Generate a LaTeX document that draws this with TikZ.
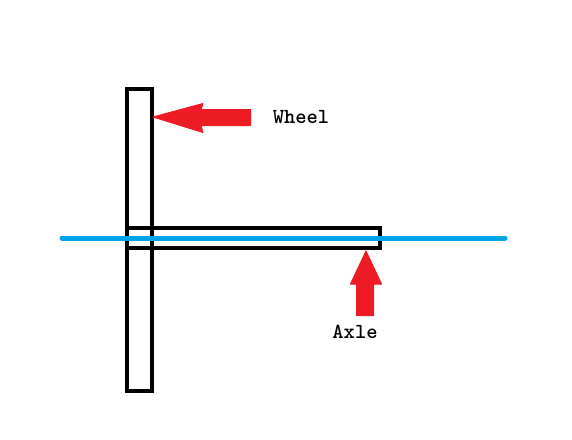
\documentclass[tikz,border=0pt]{standalone}
\definecolor{pred}{RGB}{237,28,36}
\definecolor{pblue}{RGB}{0,162,232}
\tikzset{
  part/.style={draw=black, line width=4pt, fill=none},
  redarrow/.style={fill=pred, draw=pred, line width=1pt, line join=round},
  axis/.style={draw=pblue, line width=5pt, line cap=round},
  lbl/.style={font=\ttfamily\bfseries\fontsize{21.5}{21.5}\selectfont, inner sep=0pt}
}
\begin{document}
\begin{tikzpicture}[x=1pt,y=-1pt]
\useasboundingbox[fill=white] (0,0) rectangle (572,439);
% wheel and axle
\draw[part] (127,88.5) rectangle (152,391);
\draw[part] (127,228) rectangle (379.5,247.5);
\coordinate (axL) at (62,238);
\coordinate (axR) at (505,238);
\draw[axis] (axL) -- (axR);
% arrows
\filldraw[redarrow] (153,117) -- (203,103.5) -- (201,109.5) -- (250.5,109.5) -- (250.5,125.5) -- (201,125.5) -- (203,132.5) -- cycle;
\filldraw[redarrow] (366,251) -- (381.5,284) -- (373.5,284) -- (373.5,315.5) -- (356.5,315.5) -- (356.5,284) -- (350.5,284) -- cycle;
% labels
\node[lbl] (wheel) at (301,117) {Wheel};
\node[lbl] (axle) at (355,332) {Axle};
\end{tikzpicture}
\end{document}
